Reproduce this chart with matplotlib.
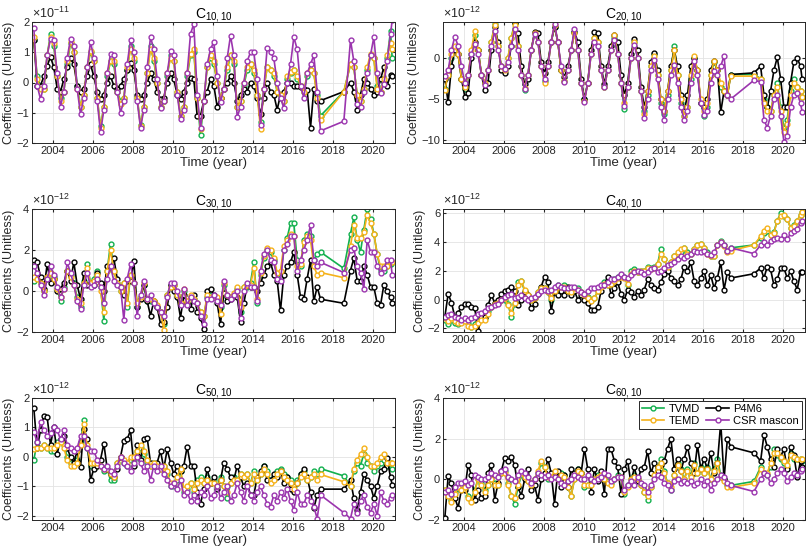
import matplotlib
matplotlib.use("Agg")
import matplotlib.pyplot as plt
from matplotlib.lines import Line2D

plt.rcParams['font.family'] = ['Liberation Sans', 'DejaVu Sans']
plt.rcParams['mathtext.default'] = 'regular'

# epochs: every second month of GRACE, gap, then GRACE-FO
sample_months = [1, 3, 5, 7, 9, 11]
epochs = [(y, m) for y in range(2003, 2017) for m in sample_months]
epochs += [(2017, 1), (2017, 3), (2017, 5), (2018, 7), (2018, 11)]
epochs += [(y, m) for y in (2019, 2020) for m in sample_months] + [(2020, 12)]
time = [y + (m - 0.5) / 12 for y, m in epochs]

series_names = ['TVMD', 'P4M6', 'TEMD', 'CSR mascon']
colors = {'TVMD': '#12B04E', 'P4M6': '#000000', 'TEMD': '#F5B21A', 'CSR mascon': '#9B35AE'}

# ---------------- C10,10 (x 1e-11) ----------------
c10_tvmd = [1.4, 0.2, -0.1, -0.2, 0.9, 1.6,  1.2, 0.2, -0.5, -0.3, 0.6, 1.3,
            1.0, -0.1, -0.8, -0.4, 0.5, 1.0,  0.7, -0.5, -1.45, -0.8, 0.2, 0.7,
            0.6, -0.3, -0.6, -0.5, 0.4, 1.2,  0.7, -0.5, -1.4, -0.8, 0.3, 1.2,
            0.7, 0.0, -0.8, -0.6, 0.2, 0.9,  0.7, -0.3, -1.1, -0.8, 0.2, 0.9,
            1.0, -0.5, -1.75, -0.6, 0.5, 0.8,  0.6, 0.0, -0.5, -0.2, 0.4, 0.9,
            0.6, -0.8, -0.6, -0.1, 0.4, 0.6,  0.3, -0.4, -1.3, -0.2, 0.5, 0.4,
            0.2, -0.3, -0.5, -0.6, 0.1, 0.3,  0.4, 0.1, -0.1, -0.3, 0.2, 0.4,
            0.3, -0.4, -1.1,  -0.3, 0.6,
            0.5, -0.4, -0.6, -0.2, 0.4, 0.9,  0.8, -0.1, -0.3, 0.0, 0.8, 1.7, 0.8]
c10_temd = [1.5, 0.1, -0.2, -0.2, 0.9, 1.5,  1.3, 0.2, -0.6, -0.3, 0.7, 1.35,
            1.0, -0.2, -0.8, -0.4, 0.5, 1.05,  0.7, -0.5, -1.5, -0.8, 0.3, 0.7,
            0.7, -0.3, -0.7, -0.5, 0.5, 1.1,  0.8, -0.5, -1.45, -0.8, 0.3, 1.1,
            0.8, 0.0, -0.8, -0.6, 0.3, 0.8,  0.7, -0.3, -1.1, -0.8, 0.3, 0.95,
            1.1, -0.5, -1.55, -0.6, 0.5, 0.9,  0.7, 0.0, -0.5, -0.2, 0.5, 0.9,
            0.7, -0.8, -0.6, 0.0, 0.5, 0.6,  0.4, -0.4, -1.55, -0.2, 0.5, 0.4,
            0.3, -0.3, -0.4, -0.6, 0.2, 0.35,  0.4, 0.2, -0.1, -0.3, 0.3, 0.4,
            0.3, -0.5, -1.25,  -0.3, 0.6,
            0.5, -0.4, -0.6, -0.2, 0.5, 0.95,  0.8, -0.2, -0.3, 0.1, 0.9, 1.3, 1.1]
c10_p4m6 = [1.4, -0.1, -0.1, 0.2, 0.55, 0.85,  0.5, -0.2, -0.3, 0.1, 0.5, 0.8,
            0.6, -0.1, -0.3, -0.2, 0.2, 0.6,  0.2, -0.3, -0.55, -0.4, 0.0, 0.2,
            -0.1, -0.2, -0.1, 0.1, 0.4, 0.65,  0.4, -0.4, -0.55, -0.4, 0.0, 0.3,
            0.1, -0.3, -0.55, -0.5, 0.0, 0.3,  0.1, -0.4, -0.55, -0.3, 0.0, 0.15,
            0.1, -1.1, -1.1, -0.6, -0.3, 0.1,  -0.1, -0.8, -0.5, -0.2, 0.0, 0.2,
            0.0, -0.6, -0.4, -0.2, -0.3, 0.0,  -0.1, -0.5, -1.05, -0.5, 0.0, -0.3,
            -0.4, -0.9, -0.4, -0.3, 0.0, 0.0,  -0.1, -0.1, -0.15, -0.2, -0.25, -1.5,
            -0.2, -0.6, -0.6,  -0.3, 0.0,
            -0.3, -0.9, -0.4, 0.1, 0.0, -0.2,  -0.4, -0.3, 0.1, 0.5, -0.1, 0.25, 0.2]
c10_csr = [1.8, -0.1, -0.55, -0.1, 0.9, 1.45,  1.4, 0.3, -0.8, -0.3, 0.8, 1.45,
           1.2, -0.2, -1.05, -0.5, 0.5, 1.35,  0.8, -0.6, -1.65, -0.9, 0.3, 0.95,
           0.9, -0.3, -1.0, -0.6, 0.6, 1.4,  1.0, -0.6, -1.5, -0.9, 0.5, 1.5,
           1.1, 0.1, -0.85, -0.6, 0.3, 1.05,  0.9, -0.4, -1.2, -0.9, 0.3, 1.6,
           1.95, -0.4, -1.5, -0.6, 0.6, 1.1,  1.35, 0.2, -0.65, -0.2, 0.8, 1.55,
           0.9, -1.15, -0.8, 0.0, 0.7, 1.0,  1.0, 0.1, -1.4, -0.2, 1.15, 1.0,
           0.8, 0.0, -0.5, -0.85, 0.0, 0.6,  1.5, 1.1, -0.1, -0.5, 0.3, 0.6,
           0.9, -0.3, -1.6,  -1.28, 1.4,
           0.7, -0.7, -0.8, -0.3, 0.3, 0.9,  1.5, 0.3, -0.35, -0.05, 0.7, 1.6, 2.05]

# ---------------- C20,10 (x 1e-12) ----------------
c20_tvmd = [-3.8, -2.0, 0.0, 1.3, 0.5, -2.5,  -3.8, -2.0, 0.5, 2.8, 1.0, -2.0,
            -3.0, -1.5, 2.0, 4.2, 1.5, -1.0,  -1.5, 0.0, 2.5, 4.3, 1.5, -2.0,
            -3.9, -2.0, 1.0, 3.0, 2.0, -1.0,  -2.8, -1.0, 2.0, 3.8, 2.0, -1.5,
            -2.8, -1.5, 1.0, 3.2, 1.0, -3.0,  -5.0, -3.0, 0.5, 2.5, 2.0, -1.5,
            -3.5, -1.5, 1.0, 2.5, 0.5, -3.0,  -6.2, -3.5, 0.0, 2.0, 0.0, -4.0,
            -6.5, -4.5, -1.0, 0.5, -2.0, -5.5,  -6.8, -4.5, -1.5, 1.5, -2.0, -5.5,
            -7.0, -6.0, -2.5, 0.0, -1.5, -5.5,  -7.0, -6.0, -2.0, -0.5, -1.5, -3.5,
            -4.0, -4.5, -2.0,  -2.0, -2.5,
            -5.0, -6.0, -6.5, -4.5, -3.0, -6.0,  -8.5, -7.5, -4.0, -2.5, -3.5, -4.0, -4.8]
c20_temd = [-3.9, -2.0, 0.5, 1.5, 0.5, -2.5,  -3.5, -2.0, 1.0, 3.3, 1.0, -2.0,
            -3.0, -1.5, 2.0, 4.0, 1.5, -1.0,  -1.5, 0.0, 2.5, 4.0, 1.5, -2.0,
            -3.6, -2.0, 1.0, 3.0, 2.0, -1.0,  -3.0, -1.0, 2.0, 4.0, 2.0, -1.5,
            -2.8, -1.5, 1.0, 3.0, 1.0, -3.0,  -5.2, -3.0, 0.5, 2.5, 2.0, -1.5,
            -3.5, -1.5, 1.0, 2.8, 0.5, -3.0,  -5.5, -3.5, 0.0, 2.0, 0.0, -4.0,
            -6.8, -4.0, -1.0, 0.3, -2.0, -5.0,  -6.5, -4.0, -1.5, 1.0, -2.0, -5.0,
            -7.0, -6.0, -2.0, 0.3, -1.5, -5.0,  -6.5, -5.5, -2.0, -0.3, -1.5, -3.0,
            -4.0, -4.5, -2.2,  -2.2, -2.5,
            -5.5, -6.5, -6.5, -4.5, -3.5, -6.5,  -9.0, -8.0, -4.5, -3.0, -3.5, -4.0, -4.8]
c20_p4m6 = [-2.5, -5.4, -1.0, 1.0, 0.5, -2.5,  -4.7, -4.3, 0.0, 2.0, 1.0, -2.0,
            -3.9, -3.0, 1.0, 3.8, 2.0, -1.5,  -1.8, -1.0, 1.5, 4.3, 3.0, -1.0,
            -3.2, -2.5, 1.0, 3.2, 3.0, -0.5,  -1.8, -0.5, 2.0, 3.8, 2.0, -1.5,
            -2.3, -1.0, 1.0, 3.2, 2.0, -2.5,  -5.0, -3.0, 1.0, 3.2, 3.0, -1.0,
            -3.2, -1.0, 1.5, 2.8, 2.0, -2.0,  -4.5, -3.0, 0.5, 2.3, 1.0, -3.5,
            -6.0, -4.0, -0.5, 0.6, -1.5, -5.0,  -6.5, -4.0, -1.0, 1.0, -1.0, -4.5,
            -6.5, -4.5, -1.0, 0.0, -1.5, -5.5,  -6.0, -5.0, -1.5, -0.3, -1.5, -6.6,
            -4.0, -4.5, -2.0,  -1.8, -1.0,
            -4.5, -6.0, -4.0, -1.5, 0.1, -2.5,  -6.0, -6.0, -3.0, -0.5, 0.0, -1.0, -2.6]
c20_csr = [-2.2, -1.5, 1.0, 2.6, 1.5, -1.0,  -3.0, -2.0, 0.5, 1.7, 0.5, -2.0,
           -3.3, -1.5, 1.5, 3.3, 1.0, -1.0,  -1.3, -0.5, 1.5, 3.6, 1.0, -2.0,
           -3.8, -2.0, 1.0, 2.9, 2.0, -1.0,  -2.6, -1.0, 2.0, 4.2, 2.0, -1.0,
           -2.9, -1.5, 1.0, 3.6, 1.0, -3.0,  -5.3, -3.0, 0.5, 2.0, 1.5, -1.5,
           -3.5, -1.5, 1.0, 2.2, 0.5, -3.0,  -5.9, -3.5, 0.0, 1.6, 0.0, -4.0,
           -7.3, -5.0, -1.5, -0.2, -2.5, -6.0,  -7.6, -5.0, -2.0, -0.8, -3.0, -6.0,
           -7.5, -6.5, -3.0, -0.4, -2.0, -5.5,  -6.9, -6.5, -3.0, -1.6, -2.0, -1.0,
           0.3, -4.5, -5.0,  -2.7, -2.9,
           -7.5, -8.5, -7.0, -5.0, -4.5, -7.0,  -10.2, -9.5, -6.0, -4.5, -4.3, -5.5, -6.6]

# ---------------- C30,10 (x 1e-12) ----------------
c30_tvmd = [0.5, 0.8, 0.4, 0.0, 0.6, 0.9,  0.7, 0.1, -0.5, 0.2, 1.0, 0.8,
            0.4, -0.3, -0.8, 0.5, 1.3, 0.4,  0.6, 1.0, 0.2, -1.45, 1.0, 2.3,
            1.0, 0.4, 0.0, 0.4, -0.8, 0.8,  0.4, -0.8, -0.3, 0.3, -0.5, -0.5,
            -0.6, -0.8, -1.0, -1.6, -0.2, 0.3,  0.3, -0.2, -0.6, 0.0, -0.6, -0.3,
            -0.4, -0.6, -1.0, -1.2, -0.3, -0.2,  -0.3, -0.4, -0.8, 0.3, -0.3, -0.3,
            -0.2, 0.1, -1.0, 0.2, 0.2, 0.4,  1.4, -0.6, 0.8, 1.6, 2.0, 1.9,
            1.5, 0.8, 0.7, 2.0, 2.6, 3.3,  3.3, 1.5, 1.2, 2.5, 2.8, 2.7,
            1.5, 1.8, 1.9,  1.1, 2.8,
            3.6, 2.5, 1.9, 3.0, 4.0, 3.5,  2.8, 1.8, 1.0, 1.0, 1.2, 1.3, 1.4]
c30_temd = [0.7, 0.6, 0.4, 0.0, 0.7, 0.9,  0.6, 0.1, -0.3, 0.1, 1.0, 0.7,
            0.3, -0.4, -0.6, 0.4, 1.1, 0.4,  0.5, 0.8, 0.0, -1.0, 1.0, 2.0,
            1.0, 0.4, 0.0, 0.4, -0.6, 0.8,  0.4, -0.6, -0.3, 0.4, -0.4, -0.4,
            -0.5, -0.7, -1.0, -1.9, -0.2, 0.2,  0.3, -0.2, -0.6, 0.1, -0.5, -0.2,
            -0.4, -0.6, -1.0, -1.2, -0.2, -0.3,  -0.3, -0.3, -1.1, 0.4, -0.2, -0.3,
            -0.1, 0.2, -0.8, 0.2, 0.3, 0.3,  1.1, -0.4, 0.9, 1.7, 2.1, 2.0,
            1.6, 0.9, 1.0, 2.2, 2.5, 2.8,  2.7, 1.2, 1.3, 2.4, 2.7, 2.5,
            1.2, 0.8, 0.9,  0.65, 2.2,
            3.2, 2.6, 2.6, 2.9, 3.7, 3.3,  2.8, 1.8, 1.2, 1.2, 1.2, 1.4, 1.4]
c30_p4m6 = [1.5, 1.4, 0.7, 0.1, 1.3, 0.4,  0.6, 0.0, 0.1, 0.4, 1.0, 0.5,
            1.4, 0.3, -0.4, 0.9, 0.3, 0.4,  0.3, 0.9, 0.4, 0.0, 1.2, 1.1,
            1.6, 0.6, 0.2, -0.2, 0.5, 0.5,  1.45, -0.8, -0.4, 0.3, -0.5, -1.2,
            -0.5, -0.8, -1.6, -1.5, -0.8, 0.3,  0.0, -0.3, -1.3, -0.2, -0.6, -0.9,
            -0.2, -1.0, -1.3, -1.85, 0.0, 0.1,  -0.2, -0.6, -1.6, -0.1, -0.5, -0.4,
            -0.2, -0.3, -1.5, -0.6, 0.3, 0.2,  0.2, 0.0, 0.4, 0.8, 1.2, 1.4,
            0.8, 0.5, -0.95, 0.8, 1.2, 1.4,  1.9, 0.8, -0.3, -0.4, 0.6, 1.5,
            -0.5, 0.2, -0.4,  -0.6, 1.0,
            1.6, 0.5, 0.5, 1.2, 0.8, 0.2,  0.2, -0.6, -0.7, 0.3, 0.0, -0.3, -0.6]
c30_csr = [1.2, 0.9, 0.3, -0.2, 0.6, 1.2,  0.8, 0.2, -0.3, 0.1, 1.4, 0.9,
           0.3, -0.5, -0.9, 0.3, 0.9, 0.2,  0.3, 0.6, 0.2, -0.6, 0.6, 1.2,
           0.5, 0.3, 0.2, -1.4, 0.6, 1.3,  0.4, -1.2, -0.2, 0.5, -0.4, -0.2,
           -0.6, -0.8, -1.0, -1.2, -0.3, 0.4,  0.4, 0.0, -0.7, 0.1, -0.7, -0.3,
           -0.5, -0.6, -1.2, -1.6, -0.4, -0.4,  -0.2, -0.5, -0.7, 0.5, -0.2, -0.4,
           -0.2, 0.0, -1.3, 0.0, 0.4, 0.2,  0.2, -0.5, 1.0, 1.8, 2.0, 1.5,
           1.4, 0.6, 0.5, 2.0, 2.3, 2.7,  2.7, 1.0, 1.5, 2.0, 2.5, 3.2,
           1.5, 1.2, 1.4,  0.9, 2.0,
           2.1, 1.2, 0.9, 0.1, 2.5, 1.9,  1.9, 1.2, 0.9, 1.1, 1.5, 1.5, 0.8]

# ---------------- C40,10 (x 1e-12) ----------------
c40_tvmd = [-1.4, -1.7, -1.4, -1.6, -1.7, -1.5,  -1.4, -1.6, -1.9, -1.7, -1.5, -1.3,
            -1.3, -0.8, -0.5, -0.3, -0.2, 0.0,  0.0, -0.3, -1.2, -0.3, 1.2, 1.3,
            0.6, 0.2, 0.0, 0.1, 0.5, 0.8,  0.8, 0.5, 0.0, 0.6, 1.0, 0.9,
            1.0, 0.6, 0.5, 0.8, 0.8, 0.5,  0.3, 0.2, 0.0, 0.1, 0.6, 0.9,
            1.2, 1.0, 1.1, 1.4, 1.6, 1.7,  1.6, 1.0, 2.0, 2.1, 1.9, 2.0,
            2.0, 2.3, 2.2, 2.3, 2.5, 3.5,  2.8, 2.2, 2.6, 3.0, 3.2, 3.3,
            3.6, 3.3, 3.2, 3.5, 3.8, 3.9,  3.6, 3.3, 3.0, 3.0, 3.8, 4.1,
            3.8, 3.4, 3.6,  3.8, 4.3,
            4.6, 4.8, 4.5, 4.7, 5.5, 6.0,  5.8, 5.6, 5.0, 5.2, 5.5, 5.9, 6.1]
c40_temd = [-1.3, -1.5, -1.3, -1.5, -1.6, -1.6,  -1.5, -1.8, -1.9, -1.8, -1.6, -1.4,
            -1.4, -1.0, -0.5, -0.3, -0.2, 0.0,  0.1, -0.4, -0.9, -0.2, 1.0, 1.3,
            0.7, 0.3, 0.0, 0.1, 0.5, 0.8,  0.8, 0.5, 0.1, 0.6, 0.9, 0.9,
            0.9, 0.6, 0.5, 0.8, 0.7, 0.5,  0.3, 0.1, -0.1, 0.1, 0.6, 0.9,
            1.1, 1.0, 1.1, 1.3, 1.5, 1.6,  1.5, 1.1, 1.8, 2.0, 1.9, 2.0,
            2.0, 2.2, 2.1, 2.2, 2.5, 3.2,  2.8, 2.3, 2.6, 3.0, 3.3, 3.5,
            3.6, 3.2, 3.2, 3.5, 3.8, 3.9,  3.6, 3.2, 3.0, 3.0, 3.8, 4.0,
            3.7, 3.3, 3.4,  3.8, 4.4,
            4.8, 5.0, 4.5, 4.6, 5.5, 5.8,  5.9, 5.6, 5.0, 5.1, 5.5, 5.9, 6.1]
c40_p4m6 = [-1.2, 0.4, -0.2, -1.2, -0.9, -0.5,  -0.3, -0.3, -0.5, -0.6, -2.2, -1.2,
            -1.2, -0.4, 0.3, -0.2, 0.0, 0.4,  0.6, 0.7, 0.9, 0.6, -0.4, 0.0,
            0.5, 0.3, -0.6, -0.3, 0.4, 0.9,  1.6, 1.2, -0.8, 0.5, 0.3, 0.6,
            0.3, 0.9, 0.3, 0.6, 0.0, 0.3,  0.0, -0.2, -0.7, -0.7, -0.5, 0.6,
            1.0, 1.6, 0.3, 0.8, 1.2, 0.4,  0.0, 0.7, 0.5, 0.2, 0.6, 0.3,
            0.7, 1.4, 1.0, 0.8, 0.7, 1.2,  1.8, 2.0, 1.5, 1.3, 1.0, 1.4,
            2.3, 2.0, 2.6, 1.3, 1.0, 1.5,  2.0, 1.0, 1.7, 0.8, 1.5, 2.6,
            0.7, 1.9, 1.5,  1.8, 2.2,
            1.5, 2.3, 2.1, 1.0, 1.4, 2.2,  2.2, 1.5, 2.0, 1.3, 0.7, 1.9, 1.9]
c40_csr = [-1.2, -1.1, -1.0, -1.2, -1.3, -1.4,  -1.3, -1.4, -1.3, -1.2, -1.0, -0.9,
           -0.8, -0.6, -0.5, -0.4, -0.3, 0.0,  0.2, 0.3, 0.4, 0.1, 0.2, 0.3,
           0.1, 0.0, 0.1, 0.2, 0.4, 0.6,  0.7, 0.6, 0.7, 0.9, 1.0, 0.9,
           0.8, 0.8, 0.9, 0.9, 0.7, 0.5,  0.4, 0.6, 0.8, 0.8, 0.9, 1.0,
           1.0, 1.2, 1.4, 1.4, 1.6, 1.8,  1.6, 1.5, 1.7, 1.9, 2.0, 1.9,
           1.8, 1.9, 2.1, 2.2, 1.9, 2.0,  2.2, 2.4, 2.5, 2.6, 2.8, 3.0,
           2.9, 3.0, 3.2, 3.4, 3.3, 3.3,  3.4, 3.2, 3.1, 3.3, 3.8, 4.0,
           3.8, 3.4, 3.6,  3.2, 3.8,
           4.0, 3.8, 4.1, 4.2, 4.3, 4.2,  4.5, 4.2, 4.6, 4.8, 4.9, 5.3, 5.5]

# ---------------- C50,10 (x 1e-12) ----------------
c50_tvmd = [-0.1, 0.5, 0.3, 0.4, 0.3, 0.2,  0.2, 0.5, 0.6, 0.4, 0.0, -0.2,
            -0.2, -0.1, 0.5, 1.25, 0.3, -0.3,  -0.3, -0.2, -0.3, -0.5, -0.4, -0.8,
            -0.8, -0.2, 0.0, -0.2, -0.3, -0.1,  -0.1, 0.2, 0.3, 0.1, -0.2, -0.3,
            -0.2, -0.3, -0.4, -0.3, -0.6, -1.0,  -1.0, -0.8, -0.5, -1.2, -1.1, -0.9,
            -1.2, -0.8, -0.7, -0.9, -0.7, -0.9,  -0.8, -1.0, -0.7, -1.0, -1.4, -0.9,
            -0.7, -0.8, -0.6, -0.7, -0.6, -0.9,  -0.5, -0.8, -0.6, -0.3, -0.5, -0.8,
            -0.7, -0.5, -0.4, -0.6, -0.7, -0.8,  -1.0, -0.8, -0.6, -0.5, -0.8, -0.7,
            -0.5, -0.6, -0.4,  -0.65, -1.0,
            -0.5, -0.2, -0.3, 0.1, -0.2, -0.3,  -0.5, -0.3, -0.2, -0.1, -0.3, -0.2, -0.4]
c50_temd = [0.25, 0.3, 0.3, 0.4, 0.3, 0.3,  0.3, 0.4, 0.5, 0.3, -0.1, -0.3,
            -0.3, -0.2, 0.4, 1.1, 0.4, -0.2,  -0.2, -0.2, -0.3, -0.4, -0.4, -0.6,
            -0.7, -0.2, 0.0, -0.1, -0.2, 0.0,  0.0, 0.2, 0.4, 0.2, -0.1, -0.3,
            -0.2, -0.3, -0.4, -0.3, -0.5, -0.9,  -0.9, -0.7, -0.4, -1.1, -1.0, -0.9,
            -1.1, -0.9, -0.8, -0.9, -0.8, -0.9,  -0.9, -1.0, -0.8, -1.0, -1.2, -0.9,
            -0.8, -0.8, -0.6, -0.7, -0.6, -0.9,  -0.6, -0.8, -0.6, -0.4, -0.6, -0.9,
            -0.8, -0.6, -0.5, -0.7, -0.8, -0.9,  -1.1, -0.9, -0.7, -0.6, -0.8, -0.7,
            -0.6, -0.8, -0.6,  -0.85, -1.0,
            -0.4, -0.1, 0.1, 0.3, 0.0, -0.3,  -0.3, -0.2, 0.0, 0.1, -0.2, -0.2, -0.2]
c50_p4m6 = [1.65, 0.3, 0.9, 1.4, 1.35, 0.4,  1.0, 0.1, 0.6, 0.7, 0.3, 0.0,
            -0.2, 0.2, -0.35, 0.95, 0.6, -0.8,  -0.4, -0.3, -0.1, 0.45, -0.4, -0.6,
            -0.7, -0.4, 0.0, 0.55, 0.6, 0.9,  -0.3, 0.4, -0.1, 0.6, 0.65, -0.2,
            -0.3, -0.2, 0.2, -0.4, 0.25, -0.2,  -0.6, -0.3, -0.5, -0.3, 0.35, -0.3,
            -0.3, -1.2, -1.6, -1.1, -0.4, -0.9,  -0.7, -1.1, -0.8, -0.2, -0.4, -0.7,
            -0.8, -0.3, -0.7, -1.0, -0.9, -1.3,  -1.3, -0.7, -0.5, -0.3, -0.8, -0.8,
            -0.6, -0.7, -0.5, -0.9, -0.7, -1.1,  -1.2, -0.9, -0.6, -0.4, -0.7, -1.2,
            -1.75, -1.3, -1.1,  -1.1, -0.8,
            -1.4, -1.8, -1.2, -0.6, -0.8, -1.0,  -1.4, -1.0, -0.5, -0.4, -0.05, -0.7, -0.95]
c50_csr = [0.85, 0.5, 1.2, 0.9, 0.7, 0.8,  1.0, 0.9, 0.6, 0.9, 0.4, 0.3,
           0.2, 0.3, 0.7, 0.7, 0.3, 0.2,  0.2, -0.1, -0.3, -0.4, -0.3, -0.5,
           -0.6, -0.3, 0.0, -0.2, -0.3, -0.5,  -0.2, 0.0, -0.2, -0.5, -0.3, -0.8,
           -0.3, -0.5, -0.3, -0.6, -0.8, -1.0,  -0.9, -1.1, -0.8, -1.3, -1.2, -1.5,
           -1.3, -1.5, -1.2, -1.3, -1.0, -1.4,  -1.3, -1.0, -1.4, -1.2, -1.0, -1.5,
           -1.3, -0.9, -1.2, -1.5, -1.0, -1.3,  -1.5, -1.2, -1.0, -1.3, -1.6, -1.7,
           -1.3, -1.5, -1.2, -1.4, -1.1, -1.5,  -1.8, -1.2, -1.6, -1.6, -1.3, -1.5,
           -1.7, -2.1, -1.3,  -1.9, -2.1,
           -1.6, -1.9, -1.5, -1.3, -1.7, -1.9,  -1.6, -2.0, -1.2, -1.5, -1.6, -1.4, -1.3]

# ---------------- C60,10 (x 1e-12) ----------------
c60_tvmd = [-0.5, -0.7, -1.0, -0.6, -0.3, -0.4,  -0.3, -0.8, -1.0, -0.5, 0.0, -0.2,
            -0.5, -0.3, 0.0, -0.2, -0.3, 0.3,  0.4, -0.2, -0.8, -1.2, -0.4, 0.2,
            0.2, -0.1, -0.2, 0.0, 0.3, 0.8,  0.6, 0.0, 0.1, 0.3, 0.0, 0.3,
            0.2, -0.4, -0.8, 0.0, 0.5, 0.3,  -0.4, -0.3, -0.2, 0.0, 0.2, 0.2,
            0.0, -0.1, -0.2, 0.0, 0.2, 0.1,  -0.7, -0.3, 0.0, 0.2, 0.0, -0.3,
            -0.6, -1.0, -0.4, 0.2, 0.6, 1.0,  0.4, -0.2, -0.5, 0.2, 0.8, 0.5,
            0.0, 0.5, 0.2, 0.8, 0.3, 0.6,  0.3, 0.6, 0.0, 0.5, 1.0, 0.2,
            0.0, -0.3, -0.3,  -0.1, 0.6,
            0.3, 0.2, 0.6, 1.5, 1.2, 1.0,  0.8, 0.6, 1.3, 1.0, 1.0, 1.0, 0.9]
c60_temd = [-0.5, -0.8, -1.1, -0.7, -0.4, -0.5,  -0.4, -0.9, -1.1, -0.6, 0.0, -0.3,
            -0.6, -0.3, 0.0, -0.3, -0.3, 0.3,  0.3, -0.3, -0.8, -0.9, -0.3, 0.3,
            0.1, -0.1, -0.3, 0.0, 0.4, 0.9,  0.6, 0.1, 0.1, 0.4, 0.0, 0.2,
            0.1, -0.4, -0.8, 0.0, 0.4, 0.3,  -0.3, -0.3, -0.3, 0.0, 0.1, 0.2,
            0.0, -0.2, -0.3, 0.0, 0.1, 0.1,  -0.6, -0.4, 0.0, 0.1, 0.0, -0.3,
            -0.6, -0.8, -0.4, 0.2, 0.6, 0.8,  0.3, -0.2, -0.4, 0.2, 0.7, 0.4,
            0.0, 0.4, 0.1, 0.7, 0.3, 0.5,  0.3, 0.5, 0.0, 0.4, 0.8, 0.1,
            -0.1, -0.4, -0.4,  -0.2, 0.5,
            0.3, 0.3, 0.8, 1.3, 1.3, 1.1,  0.9, 0.7, 1.2, 1.1, 1.0, 1.0, 1.0]
c60_p4m6 = [-1.9, 0.15, -0.2, -0.9, -1.4, -0.5,  -0.5, 0.7, 0.2, -1.0, -0.5, -0.9,
            -0.8, 0.3, 0.7, -1.0, -0.2, 0.4,  1.05, 0.9, 1.1, 0.7, -0.4, -0.8,
            0.0, 0.5, -0.5, -0.3, -1.0, 0.0,  0.3, 1.0, 0.3, -1.2, 0.4, -0.4,
            0.2, -0.4, 0.5, 0.3, 0.5, 0.3,  1.5, 0.5, -0.6, 0.5, -0.1, 0.4,
            -0.7, 1.5, 1.5, 0.9, 0.6, -0.7,  0.5, 0.9, -0.2, 0.6, -0.1, 0.5,
            0.6, 1.4, 0.3, 0.8, 0.4, 0.7,  0.9, 1.5, 2.0, 0.5, 1.0, 0.4,
            1.0, 1.6, 0.8, 0.3, 1.7, 0.5,  1.0, 0.5, 1.3, 0.3, 0.8, 2.8,
            0.0, 2.0, 1.6,  1.3, 0.9,
            2.2, 1.6, 1.0, 0.6, 1.5, 1.1,  1.5, 0.5, 1.6, 1.2, 0.1, 0.9, 0.6]
c60_csr = [-0.6, -0.5, -0.7, -0.4, -0.2, -0.2,  -0.1, -0.3, -0.2, 0.2, 0.1, 0.0,
           0.0, 0.1, 0.3, 0.2, 0.1, 0.4,  0.5, 0.1, 0.0, -0.1, 0.2, 0.4,
           0.3, 0.1, -0.2, 0.0, 0.3, 0.2,  0.1, 0.2, 0.0, 0.1, 0.0, -0.2,
           -0.3, -0.1, 0.0, 0.2, 0.1, 0.0,  0.0, 0.2, 0.0, -0.1, 0.0, 0.1,
           0.3, 0.2, -0.1, 0.0, 0.1, 0.1,  -0.5, -0.3, -0.1, -0.3, 0.1, -0.2,
           -0.3, -0.6, -0.3, 0.0, 0.2, 0.1,  -0.2, -0.3, -0.5, -0.1, 0.0, -0.2,
           -0.1, -0.2, -0.1, -0.3, -0.2, 0.0,  -0.3, -0.1, -0.5, -0.2, 0.0, 0.2,
           0.1, -0.2, -0.3,  -0.6, 0.0,
           0.3, 0.2, -0.2, 0.0, 0.3, 0.5,  0.3, -0.1, 0.1, 0.3, 0.2, 0.4, 0.5]

panels = [
    ('10,10', -11, (-2, 2), [-2, -1, 0, 1, 2], [c10_tvmd, c10_p4m6, c10_temd, c10_csr]),
    ('20,10', -12, (-10.35, 4.4), [-10, -5, 0], [c20_tvmd, c20_p4m6, c20_temd, c20_csr]),
    ('30,10', -12, (-2, 4), [-2, 0, 2, 4], [c30_tvmd, c30_p4m6, c30_temd, c30_csr]),
    ('40,10', -12, (-2.25, 6.3), [-2, 0, 2, 4, 6], [c40_tvmd, c40_p4m6, c40_temd, c40_csr]),
    ('50,10', -12, (-2.15, 2), [-2, -1, 0, 1, 2], [c50_tvmd, c50_p4m6, c50_temd, c50_csr]),
    ('60,10', -12, (-2, 4), [-2, 0, 2, 4], [c60_tvmd, c60_p4m6, c60_temd, c60_csr]),
]

W, H = 809, 559
# axes boxes in pixels: left, top, right, bottom
boxes = [(32, 22, 395, 143), (443, 22, 805, 143),
         (32, 209, 395, 332), (443, 209, 805, 332),
         (32, 398, 395, 520), (443, 398, 805, 520)]

fig = plt.figure(figsize=(W / 100, H / 100), dpi=100)
axis_col = '#262626'

for (label, expo, ylim, yticks, data), (l, t, r, b) in zip(panels, boxes):
    ax = fig.add_axes([l / W, 1 - b / H, (r - l) / W, (b - t) / H])
    for name, vals in zip(series_names, data):
        assert len(vals) == len(time), (label, name, len(vals))
        ax.plot(time, vals, '-o', color=colors[name], lw=1.2, ms=3.5,
                mfc='white', mec=colors[name], mew=1.0, label=name)
    ax.set_xlim(2002.95, 2021.1)
    ax.set_ylim(*ylim)
    ax.set_xticks(range(2004, 2021, 2))
    ax.set_yticks(yticks)
    ax.grid(True, color='#e3e3e3', lw=0.6)
    ax.set_axisbelow(True)
    ax.tick_params(direction='in', length=2.5, labelsize=8, colors=axis_col,
                   top=True, right=True, pad=2)
    for sp in ax.spines.values():
        sp.set_color(axis_col)
        sp.set_linewidth(0.7)
    ax.set_xlabel('Time (year)', fontsize=9.5, color=axis_col, labelpad=1)
    ax.set_ylabel('Coefficients (Unitless)', fontsize=9, color=axis_col, labelpad=1)
    ax.set_title('C$_{%s}$' % label, fontsize=10, color='black', pad=3)
    ax.text(0.0, 1.012, r'$\times10^{%d}$' % expo, transform=ax.transAxes,
            fontsize=9, color=axis_col, ha='left', va='bottom')

    if label == '60,10':
        h = {n: Line2D([], [], color=colors[n], marker='o', ms=3.5, mfc='white',
                       mec=colors[n], mew=1.0, lw=1.2) for n in series_names}
        order = ['TVMD', 'TEMD', 'P4M6', 'CSR mascon']
        leg = ax.legend([h[n] for n in order], order, ncol=2, loc='upper right',
                        fontsize=8, frameon=True, fancybox=False, framealpha=1,
                        edgecolor=axis_col, borderpad=0.25, labelspacing=0.15,
                        handlelength=2.0, handletextpad=0.4, columnspacing=0.6,
                        borderaxespad=0.3)
        leg.get_frame().set_linewidth(0.7)

fig.savefig('out.png', dpi=100)
